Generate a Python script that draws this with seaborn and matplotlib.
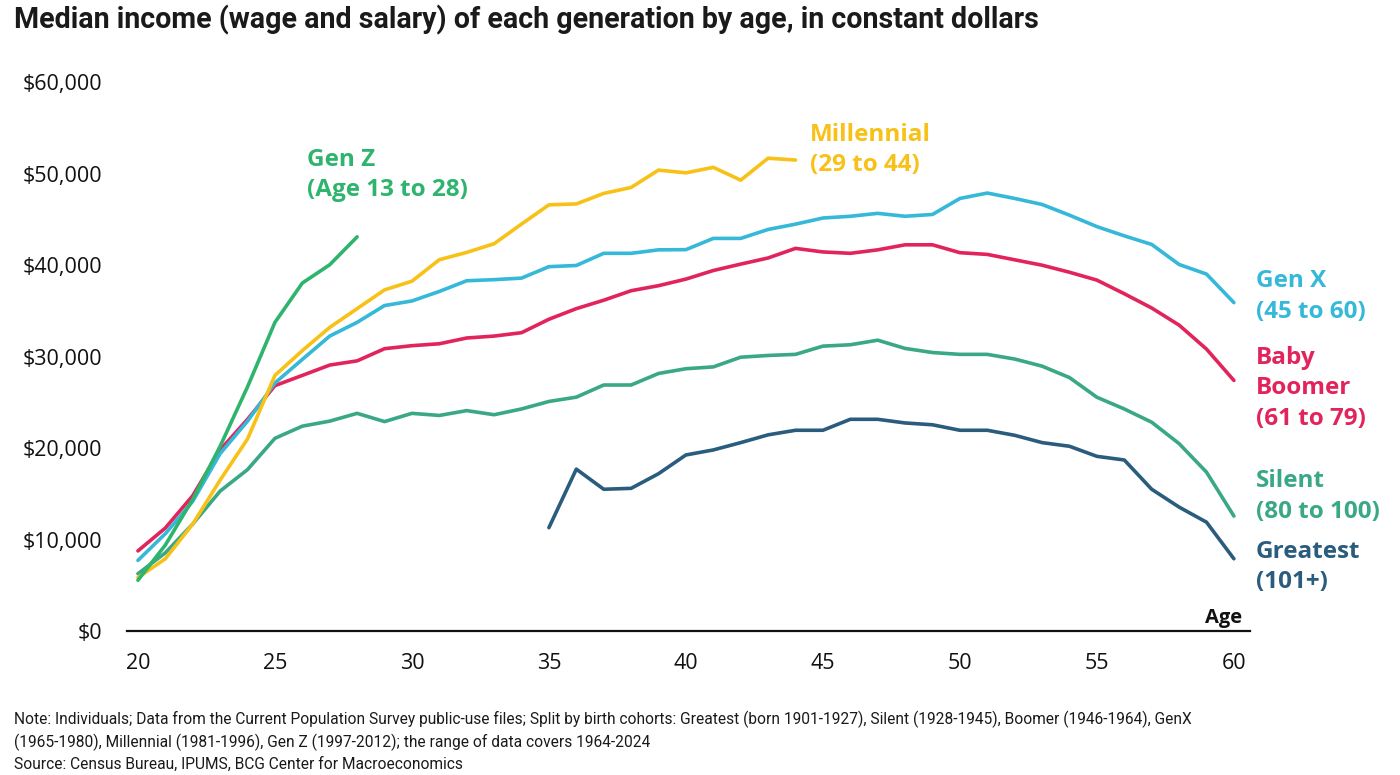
import matplotlib.pyplot as plt
import matplotlib.ticker as mticker
import pandas as pd
import seaborn as sns

# Valores (ingreso mediano en dólares constantes)
ages_genz = list(range(20, 29))
genz = [5550, 9400, 14400, 20200, 26700, 33750, 38050, 40050, 43100]

ages_mill = list(range(20, 45))
millennial = [5840, 7900, 11700, 16500, 21000, 27950, 30660, 33200, 35250, 37300,
              38250, 40600, 41400, 42350, 44500, 46600, 46700, 47850, 48500, 50400,
              50100, 50700, 49300, 51700, 51500]

ages_full = list(range(20, 61))
genx = [7720, 10640, 14180, 19400, 22950, 27120, 29700, 32250, 33750, 35590,
        36090, 37130, 38300, 38420, 38590, 39840, 39970, 41300, 41300, 41680,
        41700, 42930, 42930, 43910, 44490, 45160, 45350, 45670, 45350, 45550,
        47300, 47890, 47300, 46640, 45470, 44220, 43210, 42270, 40080, 39030,
        35910]
boomer = [8760, 11260, 14800, 19800, 23150, 26830, 27950, 29080, 29540, 30870,
          31200, 31410, 32040, 32250, 32620, 34090, 35250, 36170, 37210, 37760,
          38480, 39420, 40120, 40790, 41840, 41450, 41300, 41680, 42230, 42230,
          41370, 41180, 40590, 40000, 39230, 38370, 36880, 35320, 33450, 30830,
          27400]
silent = [6260, 8550, 11700, 15300, 17650, 21070, 22400, 22950, 23800, 22900,
          23800, 23570, 24100, 23650, 24280, 25100, 25570, 26900, 26900, 28160,
          28680, 28880, 29940, 30130, 30250, 31150, 31300, 31800, 30900, 30450,
          30250, 30250, 29740, 28960, 27710, 25560, 24280, 22830, 20490, 17370,
          12570]

ages_great = list(range(35, 61))
greatest = [11300, 17700, 15500, 15600, 17200, 19250, 19800, 20600, 21450, 21950,
            21950, 23150, 23150, 22750, 22550, 21950, 21950, 21400, 20600, 20200,
            19100, 18700, 15500, 13550, 11900, 7900]

generations = ["Greatest", "Silent", "Baby Boomer", "Gen X", "Millennial", "Gen Z"]
colors = ["#2a5c7e", "#3aa887", "#e2245c", "#36b8d9", "#f8c118", "#2fb46e"]
labels = ["Greatest\n(101+)", "Silent\n(80 to 100)", "Baby\nBoomer\n(61 to 79)",
          "Gen X\n(45 to 60)", "Millennial\n(29 to 44)", "Gen Z\n(Age 13 to 28)"]

series = {
    "Greatest": (ages_great, greatest),
    "Silent": (ages_full, silent),
    "Baby Boomer": (ages_full, boomer),
    "Gen X": (ages_full, genx),
    "Millennial": (ages_mill, millennial),
    "Gen Z": (ages_genz, genz),
}
df = pd.concat(
    [pd.DataFrame({"age": a, "income": v, "gen": g}) for g, (a, v) in series.items()],
    ignore_index=True,
)

sns.set_theme(style="white")
plt.rcParams["font.family"] = ["Open Sans", "DejaVu Sans"]

fig = plt.figure(figsize=(14, 7.75), dpi=100)
ax = fig.add_axes([0.0907, 0.1858, 0.802, 0.708])

sns.lineplot(data=df, x="age", y="income", hue="gen", hue_order=generations,
             palette=dict(zip(generations, colors)), linewidth=2.6,
             legend=False, ax=ax)

ax.set_xlim(19.6, 60.58)
ax.set_ylim(0, 60000)
ax.set_xticks([20, 25, 30, 35, 40, 45, 50, 55, 60])
ax.set_yticks(range(0, 60001, 10000))
ax.yaxis.set_major_formatter(mticker.FuncFormatter(lambda v, p: f"${v:,.0f}"))
ax.tick_params(axis="both", labelsize=15.5, length=0, colors="#111111")
ax.tick_params(axis="y", pad=18)
ax.tick_params(axis="x", pad=16)
ax.set_xlabel("")
ax.set_ylabel("")
for s in ["top", "right", "left"]:
    ax.spines[s].set_visible(False)
ax.spines["bottom"].set_color("#111111")
ax.spines["bottom"].set_linewidth(1.6)

# Etiquetas de cada generación (centro del bloque de texto)
lab_pos = {
    "Gen Z": (26.17, 49890),
    "Millennial": (44.53, 52620),
    "Gen X": (60.8, 36560),
    "Baby Boomer": (60.8, 26560),
    "Silent": (60.8, 14700),
    "Greatest": (60.8, 6990),
}
for g, c, lab in zip(generations, colors, labels):
    x, y = lab_pos[g]
    ax.text(x, y, lab, color=c, fontsize=17.5, fontweight="bold",
            ha="left", va="center", linespacing=1.36, clip_on=False)

ax.text(60.3, 300, "Age", fontsize=14.5, fontweight="bold", color="#111111",
        ha="right", va="bottom")

fig.text(0.01, 0.974, "Median income (wage and salary) of each generation by age, in constant dollars",
         fontsize=20.6, fontweight="bold", color="#1a1a1a", ha="left", va="center",
         family=["Roboto", "DejaVu Sans"])

note = ("Note: Individuals; Data from the Current Population Survey public-use files; Split by birth cohorts: "
        "Greatest (born 1901-1927), Silent (1928-1945), Boomer (1946-1964), GenX\n"
        "(1965-1980), Millennial (1981-1996), Gen Z (1997-2012); the range of data covers 1964-2024\n"
        "Source: Census Bureau, IPUMS, BCG Center for Macroeconomics")
fig.text(0.01, 0.083, note, fontsize=11.2, color="#1a1a1a", ha="left", va="top",
         linespacing=1.45, family=["Roboto", "DejaVu Sans"])

fig.savefig("out.png", dpi=100)
